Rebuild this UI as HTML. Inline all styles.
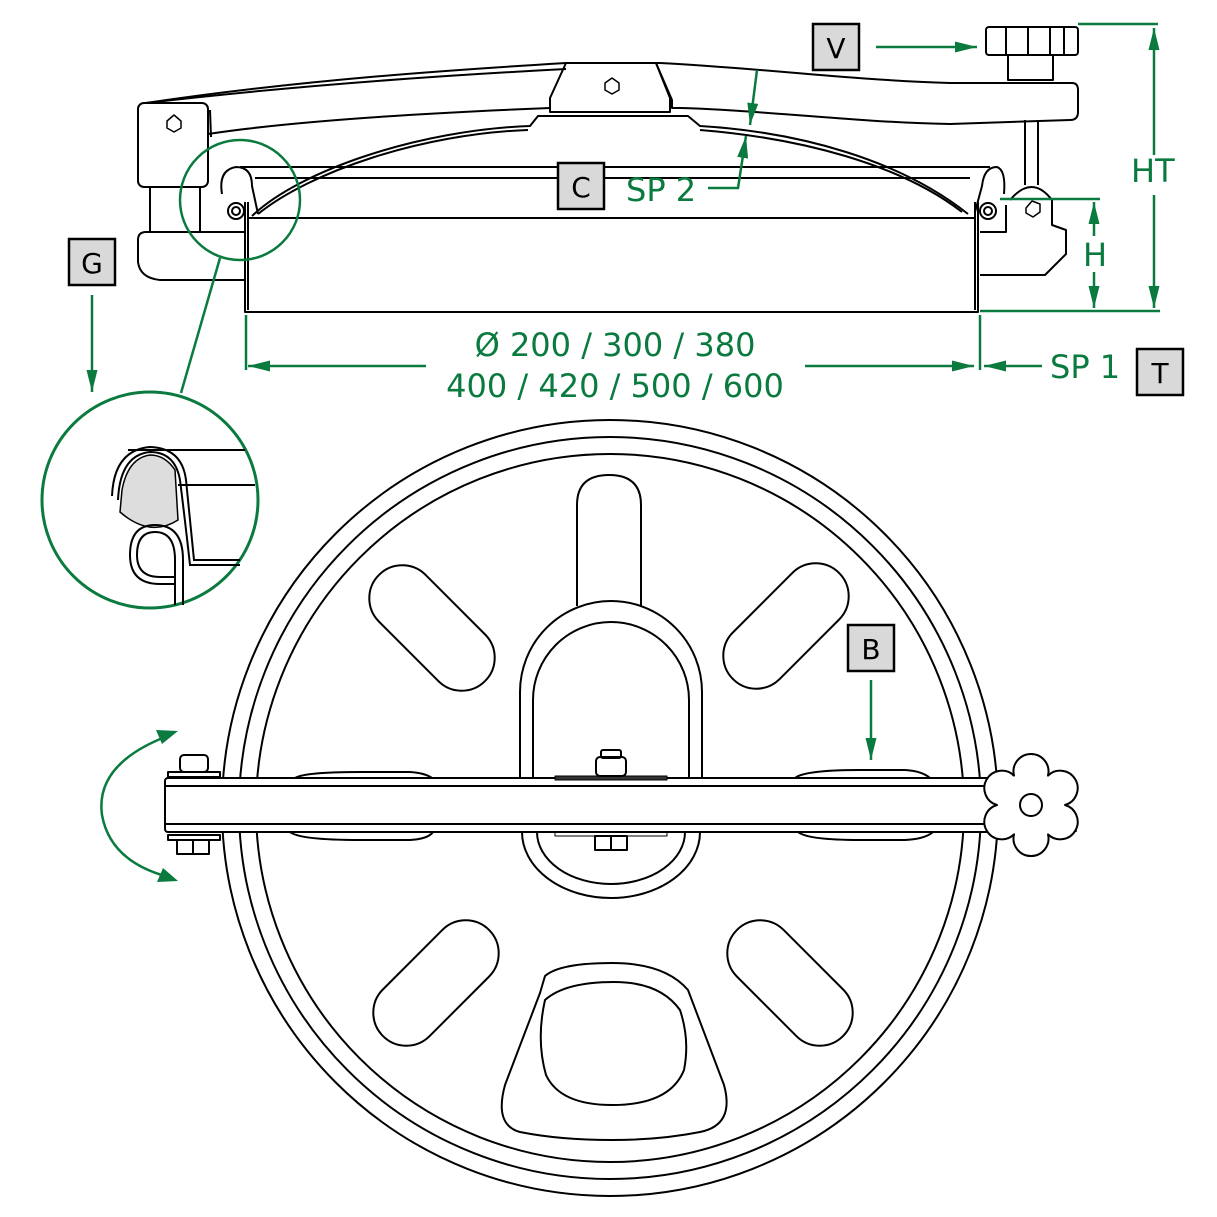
<!DOCTYPE html>
<html><head><meta charset="utf-8"><style>
html,body{margin:0;padding:0;background:#fff}
svg{display:block}
text{font-family:"DejaVu Sans","Liberation Sans",sans-serif}
</style></head><body>
<svg width="1217" height="1217" viewBox="0 0 1217 1217" xmlns="http://www.w3.org/2000/svg">
<defs>
<marker id="ar" viewBox="0 0 20 10" refX="20" refY="5" markerWidth="22" markerHeight="11" orient="auto-start-reverse" markerUnits="userSpaceOnUse"><path d="M0,0 L20,5 L0,10 Z" fill="#0a7a3f"/></marker>
</defs>
<g fill="none" stroke="#000" stroke-width="2" stroke-linejoin="round">
<path d="M146,103 C300,80 450,70 566,63 L660,63 C760,68 850,80 950,83 L1072,83 Q1078,83 1078,90 L1078,112 Q1078,120 1070,120 L950,124 C850,122 760,110 680,108 L672,108 L672,100 L656,63"/>
<path d="M146,103 C300,85 450,75 566,69"/>
<path d="M208,134 C300,120 450,112 550,108"/>
<path d="M566,63 L550,98 L550,112 L670,112 L670,98 L656,63"/>
<path d="M211,137 L210,110"/>
<path d="M252,216 C300,170 420,130 530,126 L538,116 L688,116 L700,126 C800,132 900,160 968,214"/>
<path d="M258,214 C310,172 420,134 528,130"/>
<path d="M700,130 C800,138 900,164 962,212"/>
<rect x="138" y="103" width="70" height="84" rx="6"/>
<path d="M150,187 L150,232 M200,187 L200,232"/>
<path d="M245,232 L146,232 Q138,232 138,240 L138,262 Q140,278 160,280 L245,280"/>
<path d="M245,202 L245,312 L978,312 L978,202"/>
<path d="M248,202 L248,310 M975,202 L975,310"/>
<path d="M248,218 L975,218"/>
<path d="M240,167 L990,167 M255,178 L970,178"/>
<path d="M222,194 Q218,170 236,167 Q252,167 252,186 L258,214" />
<path d="M975,212 L982,186 Q984,167 997,167 Q1006,170 1004,194"/>
<circle cx="236" cy="211" r="8"/><circle cx="236" cy="211" r="4"/>
<circle cx="988" cy="211" r="8"/><circle cx="988" cy="211" r="4"/>
<path d="M1025,120 L1025,185 M1038,120 L1038,185"/>
<path d="M1010,200 Q1032,174 1052,200 L1052,225 L1066,230 L1066,254 L1045,275 L980,275"/>
<path d="M980,232 L1006,232 L1006,205"/>
<polygon points="1026,208 1032,201 1040,204 1040,212 1033,217 1026,213" stroke-width="1.5"/>
<rect x="986" y="27" width="92" height="28" rx="3"/>
<path d="M1006,27 V55 M1028,27 V55 M1050,27 V55 M1064,27 V55"/>
<rect x="1008" y="55" width="45" height="25"/>
<polygon points="167,121 174,115 181,121 181,128 174,132 167,128" stroke-width="1.5"/>
<polygon points="605,83 612,78 619,83 619,90 612,94 605,90" stroke-width="1.5"/>

<circle cx="610" cy="808" r="388"/>
<circle cx="610" cy="808" r="371"/>
<circle cx="610" cy="808" r="354"/>
<path d="M577,606 L577,505 Q577,475 609,475 Q641,475 641,505 L641,606"/>
<path d="M520,778 L520,692 A91,91 0 0 1 702,692 L702,778"/>
<path d="M533,778 L533,700 A78,78 0 0 1 689,700 L689,778"/>
<path d="M522,832 A89,66 0 0 0 700,832"/>
<path d="M537,832 A74,52 0 0 0 685,832"/>
<rect x="357" y="595" width="150" height="66" rx="33" transform="rotate(45 432 628)"/>
<rect x="711" y="593" width="150" height="66" rx="33" transform="rotate(-45 786 626)"/>
<rect x="361" y="950" width="150" height="66" rx="33" transform="rotate(-45 436 983)"/>
<rect x="715" y="950" width="150" height="66" rx="33" transform="rotate(45 790 983)"/>
<path d="M545,976 Q560,963 612,963 Q665,963 688,990 L724,1085 Q735,1125 700,1132 Q660,1140 612,1140 Q560,1140 520,1132 Q494,1125 505,1085 L540,993 Z"/>
<path d="M545,1000 Q565,982 614,982 Q660,982 680,1010 Q690,1040 684,1070 Q670,1105 612,1105 Q560,1105 546,1075 Q536,1040 545,1000 Z"/>
<path d="M295,778 Q305,772 360,772 L410,772 Q425,773 432,778"/>
<path d="M290,832 Q300,840 360,840 L410,840 Q428,839 433,832"/>
<path d="M795,778 Q805,770 860,770 L905,770 Q922,771 930,778"/>
<path d="M798,832 Q808,840 860,840 L905,840 Q925,839 933,832"/>
<rect x="165" y="778" width="835" height="54" fill="#fff" rx="3"/>
<path d="M165,786 H1000 M165,824 H1000"/>
<path d="M1000,786 L1072,786 M1000,824 L1072,824 M1072,780 V790 M1072,820 V832 M1076,780 V790 M1076,820 V832" stroke-width="1.5"/>
<rect x="555" y="776" width="112" height="4" fill="#333" stroke-width="1"/>
<rect x="596" y="757" width="30" height="19" rx="4"/>
<rect x="601" y="750" width="20" height="8" rx="2"/>
<rect x="555" y="832" width="112" height="4" stroke-width="1"/>
<rect x="595" y="836" width="32" height="14"/><path d="M611,836 V850"/>
<rect x="168" y="772" width="52" height="5"/>
<rect x="180" y="755" width="28" height="17" rx="4"/>
<rect x="168" y="835" width="52" height="5"/>
<rect x="177" y="840" width="32" height="14"/><path d="M193,840 V854"/>
<path fill="#fff" d="M1014,775.6 A17.5,17.5 0 1 1 1048,775.6 A17.5,17.5 0 1 1 1065,805 A17.5,17.5 0 1 1 1048,834.4 A17.5,17.5 0 1 1 1014,834.4 A17.5,17.5 0 1 1 997,805 A17.5,17.5 0 1 1 1014,775.6 Z"/>
<circle cx="1031" cy="805" r="11"/>
</g>

<g stroke="#0a7a3f" stroke-width="2.5" fill="none">
<circle cx="240" cy="200" r="60"/>
<line x1="220" y1="258" x2="181" y2="393"/>
<circle cx="150" cy="500" r="108" stroke-width="3"/>
<line x1="92" y1="295" x2="92" y2="392" marker-end="url(#ar)"/>
<line x1="876" y1="47" x2="977" y2="47" marker-end="url(#ar)"/>
<line x1="1078" y1="24" x2="1158" y2="24"/>
<line x1="1154" y1="28" x2="1154" y2="155" marker-start="url(#ar)"/>
<line x1="1154" y1="195" x2="1154" y2="308" marker-end="url(#ar)"/>
<line x1="980" y1="311" x2="1160" y2="311"/>
<line x1="1000" y1="199" x2="1100" y2="199"/>
<line x1="1094" y1="202" x2="1094" y2="236" marker-start="url(#ar)"/>
<line x1="1094" y1="272" x2="1094" y2="308" marker-end="url(#ar)"/>
<line x1="246" y1="315" x2="246" y2="370"/>
<line x1="980" y1="315" x2="980" y2="370"/>
<line x1="426" y1="366" x2="248" y2="366" marker-end="url(#ar)"/>
<line x1="805" y1="366" x2="974" y2="366" marker-end="url(#ar)"/>
<line x1="1042" y1="366" x2="984" y2="366" marker-end="url(#ar)"/>
<line x1="871" y1="680" x2="871" y2="760" marker-end="url(#ar)"/>
<path d="M708,188 L738,188 L746,136" marker-end="url(#ar)"/>
<line x1="757" y1="70" x2="750" y2="125" marker-end="url(#ar)"/>
<path d="M165,737 Q95,765 102,815 Q110,860 165,876" />
</g>
<g fill="#0a7a3f">
<path d="M178,731 L156,730 L162,744 Z"/>
<path d="M178,881 L163,868 L157,882 Z"/>
</g>
<g fill="#0a7a3f" font-size="32">
<text x="626" y="201">SP 2</text>
<text x="1131" y="182">HT</text>
<text x="1083" y="266">H</text>
<text x="1050" y="378">SP 1</text>
<text x="615" y="356" text-anchor="middle">Ø 200 / 300 / 380</text>
<text x="615" y="397" text-anchor="middle">400 / 420 / 500 / 600</text>
</g>
<g font-size="28" fill="#000">
<rect x="813" y="24" width="46" height="46" fill="#d9d9d9" stroke="#000" stroke-width="2.5"/><text x="836" y="58" text-anchor="middle">V</text>
<rect x="558" y="163" width="46" height="46" fill="#d9d9d9" stroke="#000" stroke-width="2.5"/><text x="581" y="197" text-anchor="middle">C</text>
<rect x="69" y="239" width="46" height="46" fill="#d9d9d9" stroke="#000" stroke-width="2.5"/><text x="92" y="273" text-anchor="middle">G</text>
<rect x="1137" y="349" width="46" height="46" fill="#d9d9d9" stroke="#000" stroke-width="2.5"/><text x="1160" y="383" text-anchor="middle">T</text>
<rect x="848" y="625" width="46" height="46" fill="#d9d9d9" stroke="#000" stroke-width="2.5"/><text x="871" y="659" text-anchor="middle">B</text>
</g>
<g fill="none" stroke="#000" stroke-width="2">
<path d="M128,450 L245,450 M178,485 L255,485"/>
<path d="M118,500 Q120,455 150,452 Q175,452 180,480 Q185,520 190,565 L240,565"/>
<path d="M112,496 Q114,450 150,447 Q182,448 186,480 Q190,520 194,560 L240,560"/>
<path d="M120,512 Q150,538 178,520 L175,470 Q165,455 150,455 Q128,458 122,490 Z" fill="#ddd" stroke-width="1.5"/>
<path d="M175,605 L175,560 Q175,532 155,532 Q137,532 137,555 Q137,577 160,577 L175,577"/>
<path d="M183,605 L183,560 Q183,525 155,525 Q130,525 130,555 Q130,584 160,584 L175,584"/>
</g>
</svg>
</body></html>
